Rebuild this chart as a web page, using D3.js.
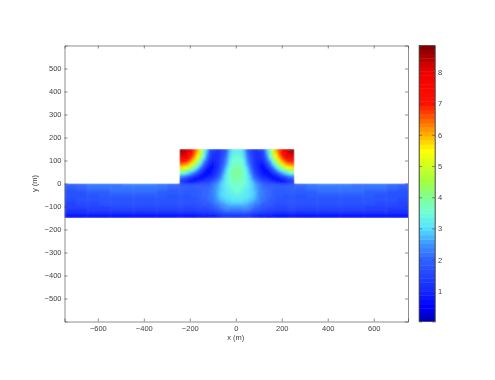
<!DOCTYPE html>
<html>
<head>
<meta charset="utf-8">
<script src="https://cdnjs.cloudflare.com/ajax/libs/d3/7.8.5/d3.min.js"></script>
<style>
html,body{margin:0;padding:0;background:#fff;}
svg{display:block;}
text{font-family:"Liberation Sans",Arial,sans-serif;font-size:7.5px;fill:#3c3c3c;opacity:0.99;}
.axis text{font-size:7.5px;fill:#3c3c3c;font-family:"Liberation Sans",Arial,sans-serif;}
.axis path,.axis line{stroke:#444;stroke-width:0.6;fill:none;}
</style>
</head>
<body>
<div id="vis"></div>
<script>
// tick labels
var xTicks = [-600,-400,-200,0,200,400,600];
var yTicks = [-500,-400,-300,-200,-100,0,100,200,300,400,500];
var cbTicks = [1,2,3,4,5,6,7,8];

// colour limits and colormap stops
var cLimits = [0.02,8.86];
var cmapVal = [0.02,0.5,1,2,2.5,3,3.5,4,4.5,5.5,6,6.5,7,8,8.86];
var cmapCol = ['#0000b0','#0000ff','#1428ff','#2f62ff','#3c96ff','#55e0ff','#70ffd8','#80ff90','#a0ff40','#ffff00','#ffb000','#ff6000','#ff1000','#f00000','#7a0000'];

// raised block, left half, 12.5 m cells, top row first (mirrored for the right half)
var blockHalf = [
[8.7,8.5,8.2,7.7,7.2,6.6,6.0,5.0,3.9,2.9,1.9,1.5,1.3,1.2,1.3,1.5,1.9,2.7,3.1,3.2],
[8.5,8.4,8.1,7.6,7.1,6.5,5.8,4.8,3.8,2.7,1.8,1.3,1.2,1.2,1.3,1.6,2.0,2.8,3.2,3.3],
[8.2,8.1,7.8,7.4,6.9,6.2,5.5,4.6,3.5,2.5,1.6,1.2,1.1,1.1,1.3,1.6,2.2,2.9,3.3,3.4],
[7.7,7.6,7.4,7.0,6.4,5.8,5.0,4.1,3.0,2.1,1.4,1.0,1.0,1.1,1.3,1.7,2.3,3.0,3.4,3.5],
[7.1,7.0,6.8,6.4,5.9,5.2,4.4,3.5,2.5,1.7,1.1,0.9,0.9,1.1,1.4,1.8,2.5,3.1,3.5,3.6],
[6.4,6.3,6.1,5.7,5.2,4.5,3.7,2.8,2.0,1.3,0.9,0.7,0.9,1.1,1.5,2.0,2.6,3.3,3.6,3.7],
[5.7,5.6,5.3,4.9,4.4,3.7,3.0,2.2,1.5,1.0,0.7,0.7,0.9,1.2,1.6,2.2,2.8,3.4,3.7,3.8],
[4.7,4.6,4.3,3.9,3.4,2.8,2.2,1.6,1.1,0.7,0.6,0.8,1.0,1.3,1.8,2.4,3.0,3.5,3.8,3.9],
[3.6,3.5,3.2,2.9,2.5,2.0,1.5,1.0,0.7,0.6,0.7,0.9,1.2,1.5,2.0,2.6,3.1,3.6,3.8,3.9],
[2.5,2.4,2.2,1.9,1.6,1.2,0.9,0.6,0.6,0.7,0.9,1.1,1.4,1.8,2.2,2.8,3.2,3.6,3.8,3.9],
[1.6,1.5,1.3,1.1,0.9,0.6,0.6,0.7,0.8,1.0,1.2,1.4,1.7,2.0,2.5,2.9,3.3,3.6,3.7,3.8],
[1.1,1.0,0.9,0.7,0.7,0.8,0.9,1.1,1.2,1.3,1.5,1.7,2.0,2.3,2.7,3.0,3.3,3.6,3.7,3.7]
];

// layer under the block, left half, same cells
var innerHalf = [
[1.8,1.8,1.7,1.7,1.7,1.7,1.7,1.7,1.8,1.8,1.9,2.1,2.3,2.6,2.8,3.0,3.2,3.4,3.5,3.6],
[1.9,1.9,1.9,1.9,1.9,1.9,1.9,1.9,1.9,2.0,2.0,2.2,2.4,2.6,2.85,3.0,3.2,3.3,3.5,3.5],
[1.9,1.9,1.9,1.9,1.9,1.9,1.9,1.9,2.0,2.0,2.1,2.3,2.5,2.7,2.85,3.0,3.1,3.3,3.4,3.5],
[1.9,1.9,1.9,1.9,1.9,1.9,1.9,1.9,2.0,2.05,2.15,2.3,2.5,2.75,2.95,3.05,3.15,3.25,3.3,3.35],
[1.8,1.8,1.8,1.8,1.9,1.9,1.9,1.9,2.0,2.05,2.15,2.3,2.5,2.7,2.9,3.0,3.1,3.15,3.2,3.2],
[1.8,1.8,1.8,1.8,1.8,1.8,1.8,1.9,1.9,2.0,2.1,2.2,2.4,2.6,2.8,2.9,3.0,3.05,3.1,3.1],
[1.7,1.7,1.7,1.7,1.7,1.7,1.7,1.8,1.8,1.9,2.0,2.1,2.3,2.4,2.6,2.75,2.85,2.9,2.95,2.95],
[1.6,1.6,1.6,1.6,1.6,1.6,1.6,1.6,1.7,1.8,1.8,1.9,2.1,2.2,2.4,2.5,2.6,2.7,2.75,2.75],
[1.5,1.5,1.5,1.5,1.5,1.5,1.5,1.5,1.5,1.6,1.7,1.8,1.9,2.0,2.15,2.3,2.4,2.45,2.5,2.5],
[1.3,1.3,1.3,1.3,1.3,1.3,1.3,1.3,1.3,1.4,1.5,1.6,1.7,1.8,1.9,2.0,2.1,2.1,2.2,2.2],
[1.1,1.1,1.1,1.1,1.1,1.1,1.1,1.1,1.2,1.2,1.3,1.3,1.4,1.5,1.5,1.6,1.6,1.7,1.7,1.7],
[0.7,0.7,0.7,0.7,0.7,0.7,0.7,0.7,0.7,0.7,0.8,0.8,0.8,0.9,0.9,1.0,1.0,1.0,1.0,1.0]
];

// far part of the layer, 50 m cells, from the left edge towards the block
var outerHalf = [
[1.9,2.0,2.1,2.2,2.2,2.3,2.3,2.3,2.2,2.0],
[1.9,2.0,2.1,2.1,2.2,2.2,2.2,2.2,2.1,2.0],
[1.8,1.9,2.0,2.0,2.1,2.1,2.1,2.1,2.0,1.9],
[1.8,1.8,1.9,1.9,2.0,2.0,2.0,2.0,1.9,1.9],
[1.7,1.7,1.8,1.9,1.9,1.9,1.9,1.9,1.9,1.8],
[1.6,1.7,1.7,1.8,1.8,1.8,1.8,1.8,1.8,1.8],
[1.5,1.6,1.6,1.7,1.7,1.7,1.7,1.7,1.7,1.7],
[1.4,1.5,1.5,1.6,1.6,1.6,1.6,1.6,1.6,1.6],
[1.3,1.4,1.4,1.4,1.5,1.5,1.5,1.5,1.5,1.5],
[1.2,1.2,1.3,1.3,1.3,1.3,1.3,1.3,1.3,1.3],
[1.1,1.1,1.1,1.1,1.1,1.1,1.1,1.1,1.1,1.1],
[0.7,0.7,0.7,0.7,0.7,0.7,0.7,0.7,0.7,0.7]
];

var xLim = [-745,749], yLim = [-600,600];
var plot = {left:64.5,right:408,top:45.5,bottom:321.5};
var bar = {left:419,right:435};

var svg = d3.select('#vis').append('svg').attr('width',495).attr('height',380);

var xScale = d3.scaleLinear().domain(xLim).range([plot.left,plot.right]);
var yScale = d3.scaleLinear().domain(yLim).range([plot.bottom,plot.top]);
var cScale = d3.scaleLinear().domain(cLimits).range([plot.bottom,plot.top]);

var cmap = d3.scaleLinear().domain(cmapVal).range(cmapCol).clamp(true);
// 64 level colormap like matlab
function colorOf(v){
    var span = cLimits[1]-cLimits[0];
    var lvl = Math.min(63,Math.max(0,Math.floor((v-cLimits[0])/span*64)));
    return cmap(cLimits[0]+(lvl+0.5)/64*span);
}

// flatten the tables into cells
var cells = [];
var step = 12.5, xStart = -245, xEnd = 255;
function pushRows(table,yTop,dx,x0,x1){
    table.forEach(function(row,r){
        row.forEach(function(v,c){
            var y1 = yTop-r*step;
            cells.push({x:x0+c*dx,w:dx,y:y1,v:v});
            cells.push({x:x1-(c+1)*dx,w:dx,y:y1,v:v});
        });
    });
}
pushRows(blockHalf,150,step,xStart,xEnd);
pushRows(innerHalf,0,step,xStart,xEnd);
pushRows(outerHalf,0,50,-745,755);

var defs = svg.append('defs');
defs.append('filter').attr('id','soft')
    .attr('x','-5%').attr('y','-20%').attr('width','110%').attr('height','140%')
    .append('feGaussianBlur').attr('stdDeviation',0.9);
var clip = defs.append('clipPath').attr('id','shape');
clip.append('rect').attr('x',xScale(xStart)).attr('y',yScale(150))
    .attr('width',xScale(xEnd)-xScale(xStart)).attr('height',yScale(0)-yScale(150));
clip.append('rect').attr('x',plot.left).attr('y',yScale(0))
    .attr('width',plot.right-plot.left).attr('height',yScale(-150)-yScale(0));

var heat = svg.append('g').attr('clip-path','url(#shape)').append('g').attr('filter','url(#soft)');
heat.selectAll('rect.cell').data(cells).enter().append('rect')
    .attr('class','cell')
    .attr('x',function(d){return xScale(d.x)-0.2})
    .attr('y',function(d){return yScale(d.y)-0.2})
    .attr('width',function(d){return xScale(d.x+d.w)-xScale(d.x)+0.4})
    .attr('height',function(d){return yScale(d.y-step)-yScale(d.y)+0.4})
    .attr('fill',function(d){return colorOf(d.v)});

// axes, ticks on both sides pointing in
function box(g){ g.attr('class','axis'); }
function cleanAxis(g){ g.attr('font-size',null).attr('font-family',null); }
svg.append('g').call(box).attr('transform','translate(0,'+plot.bottom+')')
    .call(d3.axisBottom(xScale).tickValues(xTicks).tickSize(-3).tickPadding(4)).call(cleanAxis);
svg.append('g').call(box).attr('transform','translate(0,'+plot.top+')')
    .call(d3.axisTop(xScale).tickValues(xTicks).tickSize(-3).tickFormat(''));
svg.append('g').call(box).attr('transform','translate('+plot.left+',0)')
    .call(d3.axisLeft(yScale).tickValues(yTicks).tickSize(-3).tickPadding(3)).call(cleanAxis);
svg.append('g').call(box).attr('transform','translate('+plot.right+',0)')
    .call(d3.axisRight(yScale).tickValues(yTicks).tickSize(-3).tickFormat(''));

// colorbar
var levels = d3.range(64);
var span = cLimits[1]-cLimits[0];
svg.append('g').selectAll('rect').data(levels).enter().append('rect')
    .attr('x',bar.left).attr('width',bar.right-bar.left)
    .attr('y',function(d){return cScale(cLimits[0]+(d+1)/64*span)-0.2})
    .attr('height',(plot.bottom-plot.top)/64+0.4)
    .attr('fill',function(d){return cmap(cLimits[0]+(d+0.5)/64*span)});
svg.append('g').call(box).attr('transform','translate('+bar.right+',0)')
    .call(d3.axisRight(cScale).tickValues(cbTicks).tickSize(-3).tickPadding(3).tickFormat(d3.format('d'))).call(cleanAxis);
svg.append('g').call(box).attr('transform','translate('+bar.left+',0)')
    .call(d3.axisLeft(cScale).tickValues(cbTicks).tickSize(-3).tickFormat(''));
svg.append('rect').attr('x',bar.left).attr('y',plot.top)
    .attr('width',bar.right-bar.left).attr('height',plot.bottom-plot.top)
    .attr('fill','none').attr('stroke','#444').attr('stroke-width',0.6);

// labels
svg.append('text').attr('x',xScale(0)).attr('y',340).attr('text-anchor','middle').text('x (m)');
svg.append('text').attr('transform','translate(37,'+yScale(0)+') rotate(-90)')
    .attr('text-anchor','middle').text('y (m)');
</script>
</body>
</html>
